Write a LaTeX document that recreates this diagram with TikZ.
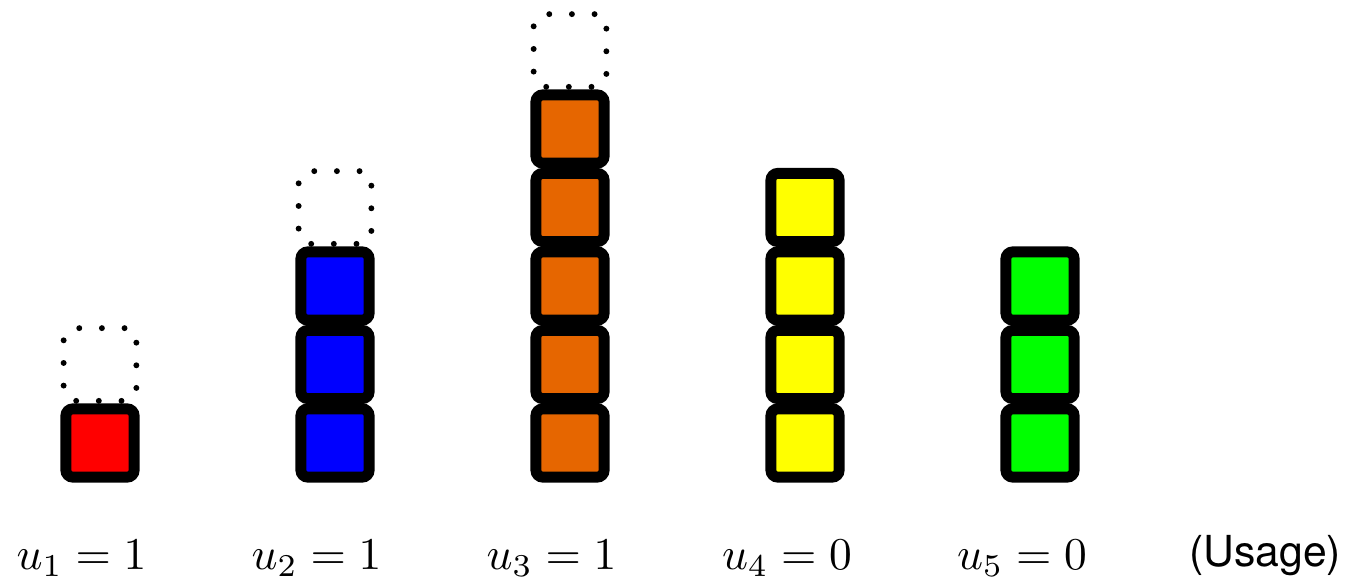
\documentclass[tikz,border=0pt]{standalone}
\usepackage{fontspec}
\newfontfamily\usagefont{TeX Gyre Heros}
\usetikzlibrary{positioning}
\definecolor{blkorange}{RGB}{230,102,0}
\definecolor{blkyellow}{RGB}{255,255,0}
\tikzset{
  blk/.style = {rectangle, draw=black, line width=2.4pt, rounded corners=1.5pt,
    minimum size=15pt, inner sep=0pt},
  slot/.style = {rectangle, draw=black, line width=1.3pt, line cap=round,
    dash pattern=on 0pt off 4.98pt, dash phase=0pt, rounded corners=2.6pt,
    minimum size=16pt, inner sep=0pt},
  ulbl/.style = {font=\fontsize{10.3}{12}\selectfont, inner sep=0pt},
  usg/.style = {font=\usagefont\fontsize{9.4}{11}\selectfont, inner sep=0pt}
}

\begin{document}
\begin{tikzpicture}[x=0.22pt, y=-0.22pt]
  \useasboundingbox (0,0) rectangle (1348,583);
  % column 1
  \node [blk, fill=red] (r1) at (100,443) {};
  \node [slot] (s1) at (100,364.5) {};
  % column 2
  \node [blk, fill=blue] (b1) at (335,443) {};
  \node [blk, fill=blue] (b2) at (335,364.5) {};
  \node [blk, fill=blue] (b3) at (335,286) {};
  \node [slot] (s2) at (335,207.5) {};
  % column 3
  \node [blk, fill=blkorange] (o1) at (570,443) {};
  \node [blk, fill=blkorange] (o2) at (570,364.5) {};
  \node [blk, fill=blkorange] (o3) at (570,286) {};
  \node [blk, fill=blkorange] (o4) at (570,207.5) {};
  \node [blk, fill=blkorange] (o5) at (570,129) {};
  \node [slot] (s3) at (570,50.5) {};
  % column 4
  \node [blk, fill=blkyellow] (y1) at (805,443) {};
  \node [blk, fill=blkyellow] (y2) at (805,364.5) {};
  \node [blk, fill=blkyellow] (y3) at (805,286) {};
  \node [blk, fill=blkyellow] (y4) at (805,207.5) {};
  % column 5
  \node [blk, fill=green] (g1) at (1040,443) {};
  \node [blk, fill=green] (g2) at (1040,364.5) {};
  \node [blk, fill=green] (g3) at (1040,286) {};
  % labels
  \node [ulbl] (u1) at (81.5,558) {$u_1=1$};
  \node [ulbl] (u2) at (316.5,558) {$u_2=1$};
  \node [ulbl] (u3) at (551.5,558) {$u_3=1$};
  \node [ulbl] (u4) at (787,558) {$u_4=0$};
  \node [ulbl] (u5) at (1022,558) {$u_5=0$};
  \node [usg] (usage) at (1265,556) {(Usage)};
\end{tikzpicture}
\end{document}
